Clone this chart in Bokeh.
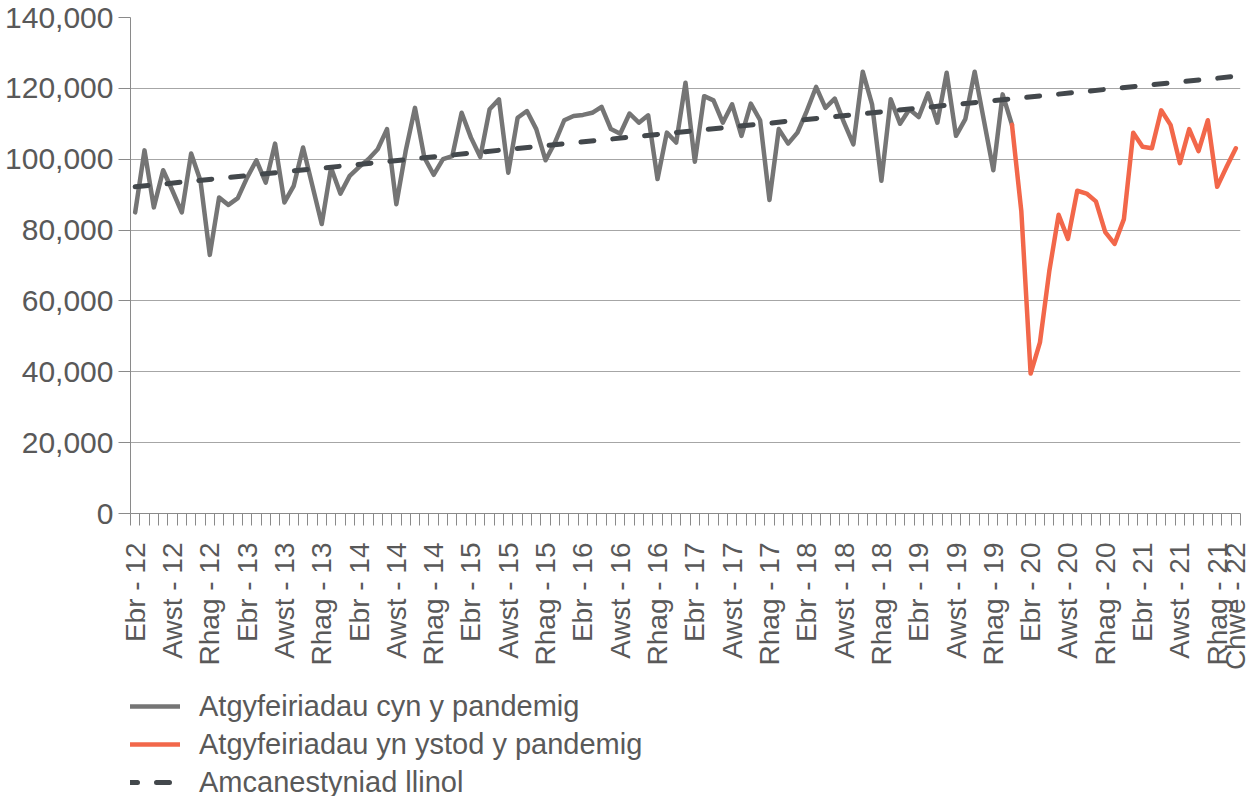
from bokeh.plotting import figure
from bokeh.layouts import column
from bokeh.models import (Range1d, FixedTicker, NumeralTickFormatter, Legend, LegendItem)
from bokeh.embed import file_html
from bokeh.resources import INLINE
import math

# ---- data (monthly referrals, Apr 2012 .. Feb 2022) ----
pre_pandemic = [85000, 102500, 86400, 96900, 91100, 85000, 101600, 93900, 73000, 89200,
                87100, 89000, 94800, 99700, 93400, 104400, 87800, 92500, 103300, 92500,
                81700, 97600, 90300, 95300, 97800, 100000, 102800, 108500, 87300, 102300,
                114500, 100500, 95600, 100000, 100900, 113100, 106100, 100600, 114100, 116900,
                96200, 111700, 113600, 108500, 99700, 104700, 111000, 112200, 112500, 113100,
                114800, 108500, 107200, 112900, 110300, 112400, 94400, 107500, 104700, 121600,
                99300, 117800, 116600, 110300, 115500, 106600, 115700, 111000, 88500, 108500,
                104400, 107500, 113600, 120400, 114500, 117100, 110300, 104200, 124700, 115500,
                93900, 116900, 110000, 114100, 111900, 118600, 110300, 124400, 106600, 111300,
                124700, 110800, 96900, 118300, 109700]
during_pandemic = [109700, 85400, 39500, 48300, 68400, 84300, 77500, 91100, 90300, 88100,
                   79400, 76100, 83100, 107500, 103500, 103100, 113800, 109700, 98900, 108500,
                   102300, 111000, 92200, 97800, 103100]
trend_values = [92200, 123400]  # linear projection, first and last month

tick_labels = ["Ebr - 12", "Awst - 12", "Rhag - 12", "Ebr - 13", "Awst - 13", "Rhag - 13",
               "Ebr - 14", "Awst - 14", "Rhag - 14", "Ebr - 15", "Awst - 15", "Rhag - 15",
               "Ebr - 16", "Awst - 16", "Rhag - 16", "Ebr - 17", "Awst - 17", "Rhag - 17",
               "Ebr - 18", "Awst - 18", "Rhag - 18", "Ebr - 19", "Awst - 19", "Rhag - 19",
               "Ebr - 20", "Awst - 20", "Rhag - 20", "Ebr - 21", "Awst - 21", "Rhag - 21",
               "Chwe - 22"]
series_names = ["Atgyfeiriadau cyn y pandemig", "Atgyfeiriadau yn ystod y pandemig",
                "Amcanestyniad llinol"]

# ---- derived positions (category index) ----
n_months = len(pre_pandemic) + len(during_pandemic) - 1
x_pre = list(range(len(pre_pandemic)))
start_pan = len(pre_pandemic) - 1
x_pan = [start_pan + i for i in range(len(during_pandemic))]
x_trend = [0, n_months - 1]
tick_pos = list(range(0, n_months - 2, 4)) + [n_months - 1]
label_map = {p: lab for p, lab in zip(tick_pos, tick_labels)}

FONT = "Liberation Sans"
TXT = "#595959"
GREY = "#757575"
ORANGE = "#f2674a"
DARK = "#43484c"
W, H1, H2 = 1253, 680, 116

p = figure(width=W, height=H1, output_backend="svg", toolbar_location=None,
           x_range=Range1d(-0.5, n_months - 0.5), y_range=Range1d(0, 140000),
           min_border_left=130, min_border_right=13, min_border_top=17,
           min_border_bottom=H1 - 513)
p.outline_line_color = None
p.background_fill_color = "white"
p.border_fill_color = "white"

# grid
p.xgrid.grid_line_color = None
p.ygrid.grid_line_color = "#a6a6a6"
p.ygrid.grid_line_width = 1

# y axis
p.yaxis.ticker = FixedTicker(ticks=list(range(0, 140001, 20000)))
p.yaxis.formatter = NumeralTickFormatter(format="0,0")
p.yaxis.axis_line_color = "#8a8a8a"
p.yaxis.major_tick_line_color = "#8a8a8a"
p.yaxis.major_tick_out = 12
p.yaxis.major_tick_in = 0
p.yaxis.minor_tick_line_color = None
p.yaxis.major_label_standoff = 5
p.yaxis.major_label_text_font = FONT
p.yaxis.major_label_text_font_size = "30px"
p.yaxis.major_label_text_color = TXT

# x axis
p.xaxis.ticker = FixedTicker(ticks=tick_pos,
                             minor_ticks=[i - 0.5 for i in range(n_months + 1)])
p.xaxis.major_label_overrides = label_map
p.xaxis.major_label_orientation = math.pi / 2
p.xaxis.axis_line_color = "#8a8a8a"
p.xaxis.major_tick_line_color = None
p.xaxis.major_tick_out = 0
p.xaxis.major_tick_in = 0
p.xaxis.minor_tick_line_color = "#8a8a8a"
p.xaxis.minor_tick_out = 12
p.xaxis.minor_tick_in = 0
p.xaxis.major_label_standoff = 17
p.xaxis.major_label_text_font = FONT
p.xaxis.major_label_text_font_size = "28px"
p.xaxis.major_label_text_color = TXT

# lines
line_styles = [dict(line_color=GREY, line_width=4.5, line_join="round", line_cap="round"),
               dict(line_color=ORANGE, line_width=4.5, line_join="round", line_cap="round"),
               dict(line_color=DARK, line_width=5, line_dash="13 19", line_cap="round")]
p.line(x_pre, pre_pandemic, **line_styles[0])
p.line(x_pan, during_pandemic, **line_styles[1])
p.line(x_trend, trend_values, **line_styles[2])

# legend panel (separate figure below the chart); each legend renderer holds
# only the first point of its series, so it draws nothing in that figure
lg = figure(width=W, height=H2, output_backend="svg", toolbar_location=None,
            x_range=Range1d(0, 1), y_range=Range1d(0, 1),
            min_border_left=118, min_border_right=0, min_border_top=0,
            min_border_bottom=0, outline_line_color=None)
lg.axis.visible = False
lg.grid.visible = False
first_points = [(x_pre[0], pre_pandemic[0]), (x_pan[0], during_pandemic[0]),
                (x_trend[0], trend_values[0])]
lg_renderers = [lg.line([fx], [fy], **st) for (fx, fy), st in zip(first_points, line_styles)]
legend = Legend(items=[LegendItem(label=name, renderers=[r])
                       for name, r in zip(series_names, lg_renderers)],
                location=(-6, -5), orientation="vertical",
                glyph_width=56, glyph_height=38, label_height=38, spacing=0,
                padding=0, margin=0, label_standoff=19,
                label_text_font=FONT, label_text_font_size="29px",
                label_text_color=TXT, background_fill_alpha=0,
                border_line_alpha=0)
lg.add_layout(legend, "center")

layout = column(p, lg, spacing=0)
open("out.html", "w").write(file_html(layout, INLINE))
